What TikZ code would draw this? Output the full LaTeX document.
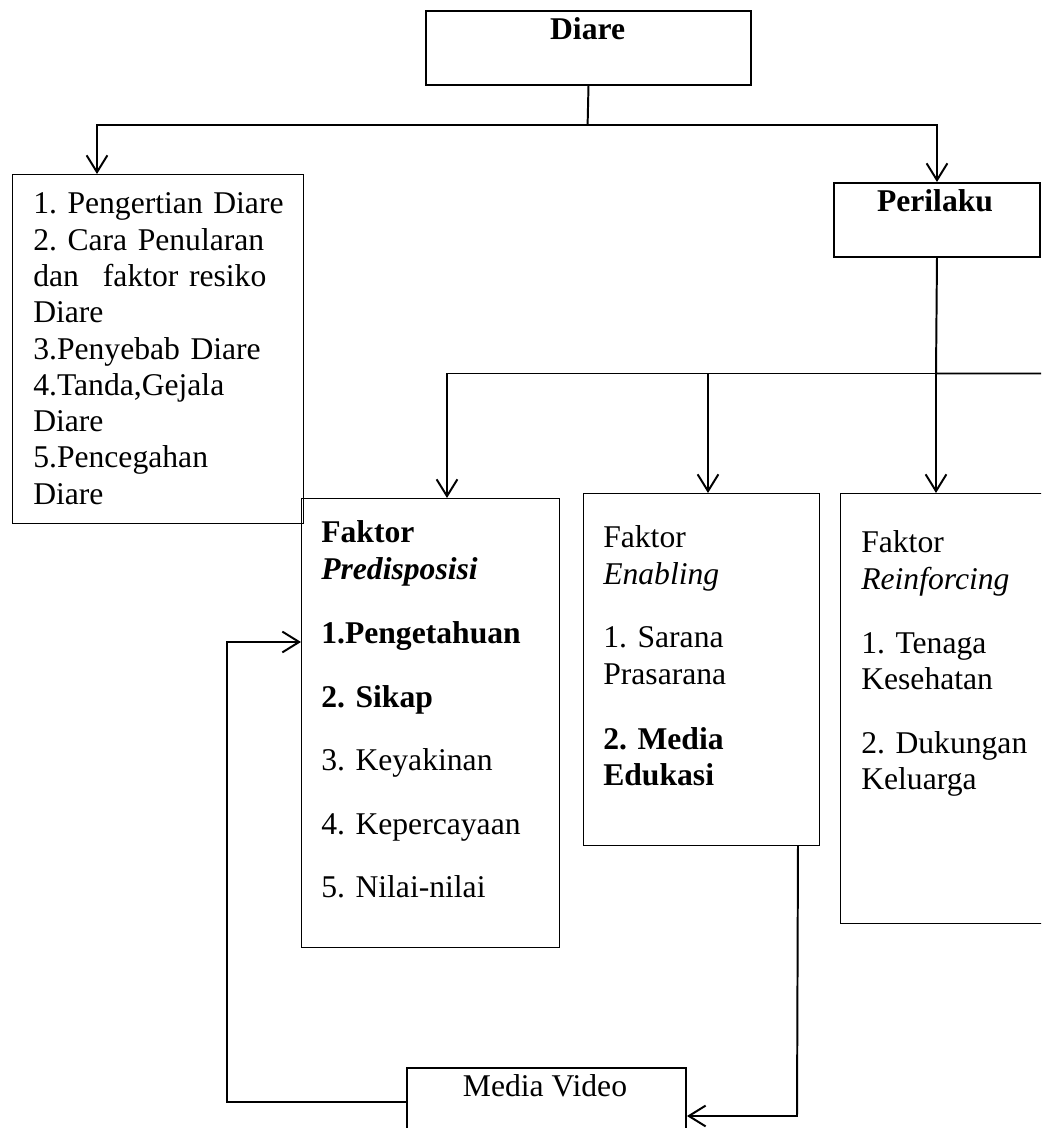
\documentclass[tikz,border=0pt]{standalone}
\usepackage{fontspec}
\setmainfont{Liberation Serif}
\usetikzlibrary{arrows.meta}

\begin{document}
\begin{tikzpicture}[
    box/.style={draw, line width=0.7pt, inner sep=0pt, anchor=north west},
    thickbox/.style={box, line width=1.4pt},
    txt/.style={anchor=base west, inner sep=0pt, align=left, font=\fontsize{22.5}{25.8}\selectfont\frenchspacing},
    title/.style={anchor=base, inner sep=0pt, font=\fontsize{22.5}{25.8}\selectfont},
    link/.style={line width=1.4pt},
    arrow/.style={link, -{Straight Barb[length=0.42cm, width=0.52cm]}}
]
    %\draw[help lines] (0,0) grid (26,28);
    \useasboundingbox (0,0) rectangle (26.025,28.2);
    \clip (0,0) rectangle (26.025,28.2);

    \node[thickbox, minimum width=8.125cm, minimum height=1.85cm] (diare) at (10.625,27.95) {};
    \node[title] (diaretxt) at (14.69,27.2) {\bfseries Diare};

    \node[box, minimum width=7.275cm, minimum height=8.725cm] (pengertian) at (0.3,23.85) {};
    \node[txt, text width=6.8cm] (pengertiantxt) at (0.825,22.85) {
        1. Pengertian Diare\\
        2. Cara Penularan\\
        dan\hspace{0.6cm}faktor resiko\\
        Diare\\
        3.Penyebab Diare\\
        4.Tanda,Gejala\\
        Diare\\
        5.Pencegahan\\
        Diare
    };

    \node[thickbox, minimum width=5.15cm, minimum height=1.85cm] (perilaku) at (20.825,23.65) {};
    \node[title] (perilakutxt) at (23.375,22.9) {\bfseries Perilaku};

    \node[box, minimum width=6.45cm, minimum height=11.225cm] (predisposisi) at (7.525,15.75) {};
    \node[txt, text width=6cm] (predisposisitxt) at (8.025,14.625) {
        \textbf{Faktor}\\
        \textbf{\textit{Predisposisi}}\\[0.7cm]
        \textbf{1.Pengetahuan}\\[0.7cm]
        \textbf{2. Sikap}\\[0.67cm]
        3. Keyakinan\\[0.68cm]
        4. Kepercayaan\\[0.68cm]
        5. Nilai-nilai
    };

    \node[box, minimum width=5.9cm, minimum height=8.8cm] (enabling) at (14.575,15.875) {};
    \node[txt, text width=5.3cm] (enablingtxt) at (15.075,14.5) {
        Faktor\\
        \textit{Enabling}\\[0.68cm]
        1. Sarana\\
        Prasarana\\[0.72cm]
        \textbf{2. Media}\\
        \textbf{Edukasi}
    };

    \node[box, minimum width=5.5cm, minimum height=10.75cm] (reinforcing) at (21,15.875) {};
    \node[txt, text width=4.6cm] (reinforcingtxt) at (21.525,14.375) {
        Faktor\\
        \textit{Reinforcing}\\[0.69cm]
        1. Tenaga\\
        Kesehatan\\[0.69cm]
        2. Dukungan\\
        Keluarga
    };

    \node[thickbox, minimum width=6.975cm, minimum height=2cm] (video) at (10.15,1.525) {};
    \node[title] (videotxt) at (13.625,0.775) {Media Video};

    % Diare -> pengertian, perilaku
    \coordinate (split1) at (14.69,25.075);
    \coordinate (p1) at (2.425,25.075);
    \draw[link] (diare.south) -- (split1);
    \draw[arrow] (split1) -- (p1) -- (p1 |- pengertian.north);
    \draw[arrow] (split1) -| (perilaku.north);

    % perilaku -> faktor
    \coordinate (split2) at (23.4,18.8625);
    \coordinate (q1) at (11.175,18.8625);
    \coordinate (q2) at (17.7,18.8625);
    \coordinate (edge) at (26.1,18.8625);
    \draw[link] (perilaku.south) -- (split2) -- (edge);
    \draw[arrow] (split2) -- (q1) -- (q1 |- predisposisi.north);
    \draw[arrow] (q2) -- (q2 |- enabling.north);
    \draw[arrow] (split2) -- (split2 |- reinforcing.north);

    % media edukasi -> video -> pengetahuan
    \coordinate (r1) at ([xshift=-0.55cm]enabling.south east);
    \coordinate (r2) at (19.925,0.3);
    \draw[arrow] (r1) -- (r2) -- (r2 -| video.east);
    \coordinate (s1) at (video.west |- 0,0.65);
    \coordinate (s2) at (5.675,12.15);
    \draw[arrow] (s1) -| (s2) -- (s2 -| predisposisi.west);

\end{tikzpicture}
\end{document}
